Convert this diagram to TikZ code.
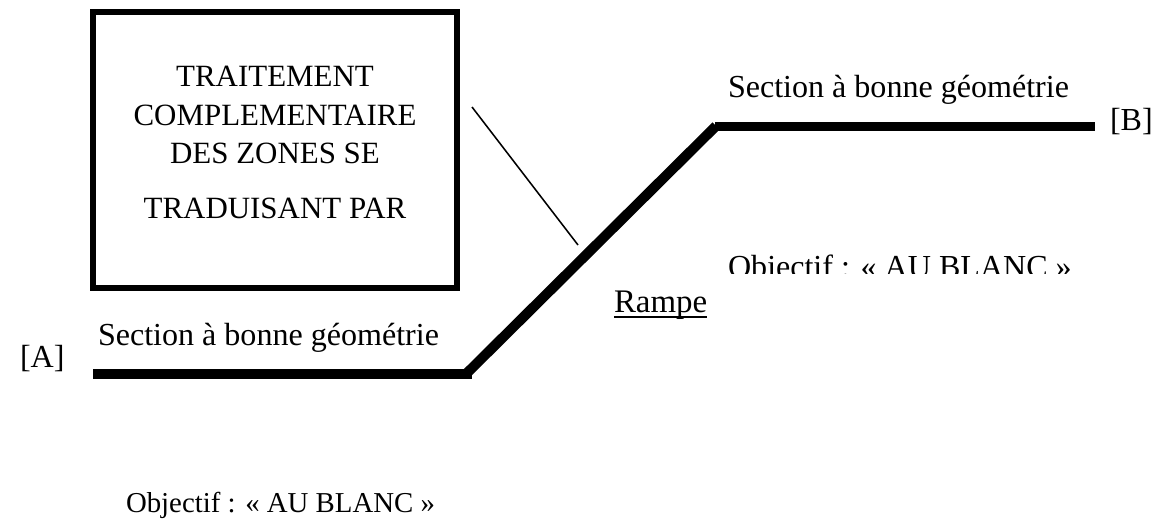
\documentclass[tikz,border=0pt]{standalone}
\usepackage{fontspec}
\setmainfont{Liberation Serif}
\usetikzlibrary{calc}

\begin{document}
\begin{tikzpicture}[
  x=0.025cm, y=-0.025cm,
  every node/.style={inner sep=0pt, outer sep=0pt},
  lbl/.style={anchor=base west, font=\fontsize{22.8}{26}\selectfont},
  frame/.style={draw, line width=3.9pt, minimum width=9.09cm, minimum height=6.9cm},
  frametext/.style={align=center, font=\fontsize{22}{27.4}\selectfont},
  road/.style={line width=7.1pt, line cap=butt},
  leader/.style={line width=1.1pt}
]
  \useasboundingbox (0,0) rectangle (1154,531);

  % cadre de gauche
  \node[frame] (box) at (275,150) {};
  \node[frametext] (boxtxt) at (275,142.5) {TRAITEMENT\\COMPLEMENTAIRE\\DES ZONES SE\\[11.7pt]TRADUISANT PAR};

  % profil en long
  \coordinate (a0) at (93,374);
  \coordinate (a1) at (472,374);
  \coordinate (r0) at (465,375);
  \coordinate (r1) at (716,126);
  \coordinate (b0) at (715,126.5);
  \coordinate (b1) at (1095,126.5);
  \draw[road] (a0) -- (a1);
  \draw[road] (r0) -- (r1);
  \draw[road] (b0) -- (b1);

  % trait de rappel
  \coordinate (lead0) at (472,107);
  \coordinate (lead1) at (578,245);
  \draw[leader] (lead0) -- (lead1);

  % textes
  \node[lbl] (ptA) at (20,367) {[A]};
  \node[lbl] (ptB) at (1110,131) {[B]};
  \node[lbl] (secA) at (98,345) {Section à bonne géométrie};
  \node[lbl] (secB) at (728,98) {Section à bonne géométrie};
  \node[lbl, font=\fontsize{23.4}{27}\selectfont] (rampe) at (614,312) {Rampe};
  \draw[line width=1.1pt] ($(rampe.base west)+(0,5)$) -- ($(rampe.base east)+(0,5)$);
  \node[lbl, font=\fontsize{20.5}{24}\selectfont] (goalA) at (126,512) {Objectif : « AU BLANC »};
  \begin{scope}
    \clip (720,240) rectangle (1100,273);
    \node[lbl] (goalB) at (728,277) {Objectif : « AU BLANC »};
  \end{scope}
\end{tikzpicture}
\end{document}
